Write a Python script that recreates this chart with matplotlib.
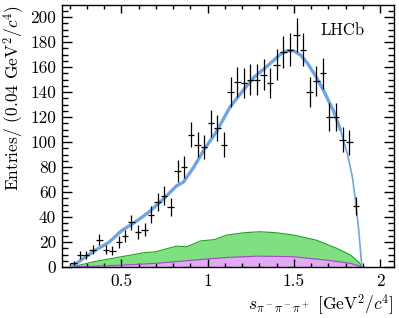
"""
    LHCb style mass spectrum: data points, fit curve, two background components
"""
import matplotlib
matplotlib.use("Agg")
import matplotlib.pyplot as plt
from matplotlib.ticker import MultipleLocator, FuncFormatter

plt.rcParams['font.family'] = 'cmr10'
plt.rcParams['mathtext.fontset'] = 'cm'
plt.rcParams['axes.formatter.use_mathtext'] = True
plt.rcParams['axes.unicode_minus'] = False

# data points (bin centres, entries, stat. errors)
x_data = [0.223, 0.261, 0.296, 0.334, 0.372, 0.41, 0.448, 0.486, 0.52, 0.558,
          0.596, 0.635, 0.673, 0.71, 0.748, 0.786, 0.826, 0.864, 0.903, 0.942,
          0.98, 1.019, 1.057, 1.095, 1.134, 1.172, 1.21, 1.248, 1.287, 1.325,
          1.363, 1.401, 1.44, 1.478, 1.516, 1.554, 1.592, 1.631, 1.669, 1.707,
          1.745, 1.784, 1.822, 1.86]
y_data = [3, 10, 10, 14, 22, 14, 13, 20, 25, 36,
          28, 30, 42, 52, 57, 48, 77, 80, 106, 98,
          96, 115, 111, 98, 140, 148, 147, 150, 150, 154,
          147, 162, 172, 174, 186, 174, 140, 149, 155, 120,
          120, 102, 100, 49]
y_err = [1.7, 3.2, 3.2, 3.7, 4.7, 3.7, 3.6, 4.5, 5.0, 6.0,
         5.3, 5.5, 6.5, 7.2, 7.5, 6.9, 8.8, 8.9, 10.3, 9.9,
         9.8, 10.7, 10.5, 9.9, 11.8, 12.2, 12.1, 12.2, 12.2, 12.4,
         12.1, 12.7, 13.1, 13.2, 13.6, 13.2, 11.8, 12.2, 12.4, 11.0,
         11.0, 10.1, 10.0, 7.0]
x_halfbin = 0.019

# total fit
fit_x = [0.21, 0.27, 0.35, 0.43, 0.50, 0.58, 0.66, 0.74, 0.82, 0.86, 0.92,
         0.98, 1.05, 1.13, 1.21, 1.27, 1.34, 1.42, 1.46, 1.50, 1.54, 1.58,
         1.63, 1.67, 1.73, 1.77]
fit_y = [0, 6, 13.5, 20, 29, 36, 44, 54, 65, 68, 80,
         94, 108, 128, 142, 152, 160, 170, 173, 173, 169.5, 163,
         152, 142, 125, 110]
tail_x = [1.77, 1.81, 1.84, 1.855, 1.875, 1.895]
tail_y = [110, 91, 72, 56, 32, 0]

# background components
green_x = [0.21, 0.34, 0.50, 0.63, 0.70, 0.82, 0.88, 0.96, 1.04, 1.11, 1.21,
           1.30, 1.40, 1.50, 1.63, 1.75, 1.83, 1.88, 1.897]
green_y = [0, 4.3, 8.3, 11.5, 12.3, 16.8, 16.3, 21, 22, 25.6, 27.5,
           28.3, 27.5, 25.6, 21.6, 15, 9.6, 3.5, 0]
violet_x = [0.21, 0.50, 0.70, 0.92, 0.96, 1.11, 1.29, 1.50, 1.69, 1.83, 1.897]
violet_y = [0, 1.6, 3, 5.6, 6.1, 7.7, 8.8, 8.3, 5.6, 3, 0]

fig = plt.figure(figsize=(3.99, 3.18), dpi=100)
ax = fig.add_axes([0.155, 0.160, 0.832, 0.824])

# draw
ax.fill_between(green_x, 0, green_y, color='#7ee07e', lw=0)
ax.plot(green_x, green_y, color='#1f9e1f', lw=0.8)
ax.fill_between(violet_x, 0, violet_y, color='#e2aaf5', lw=0)
ax.plot(violet_x, violet_y, color='#a348c8', lw=0.8)

ax.plot(fit_x, fit_y, color='#6fa6df', lw=2.4, solid_capstyle='round')
ax.plot(tail_x, tail_y, color='#6fa6df', lw=1.2)

ax.errorbar(x_data, y_data, xerr=x_halfbin, yerr=y_err, fmt='none',
            ecolor='black', elinewidth=0.9, capsize=0)

ax.text(1.78, 189, 'LHCb', ha='center', va='center', fontsize=12)

# set attribute
ax.set_xlim(0.155, 2.08)
ax.set_ylim(0, 209.6)
ax.xaxis.set_major_locator(MultipleLocator(0.5))
ax.xaxis.set_minor_locator(MultipleLocator(0.1))
ax.yaxis.set_major_locator(MultipleLocator(20))
ax.yaxis.set_minor_locator(MultipleLocator(5))
ax.xaxis.set_major_formatter(FuncFormatter(lambda v, p: '%g' % v))
ax.yaxis.set_major_formatter(FuncFormatter(lambda v, p: '%g' % v))
ax.tick_params(which='both', direction='in', top=True, right=True,
               labelsize=12.5, width=1.0)
ax.tick_params(axis='x', which='major', length=6, pad=5)
ax.tick_params(axis='x', which='minor', length=3)
ax.tick_params(axis='y', which='major', length=7.5, pad=4)
ax.tick_params(axis='y', which='minor', length=4)
for s in ax.spines.values():
    s.set_linewidth(1.0)

ax.set_ylabel(r'Entries/ (0.04 GeV$^2$/$c^4$)', fontsize=12.5, loc='top',
              labelpad=3)
ax.set_xlabel(r'$s_{\pi^-\pi^-\pi^+}$ [GeV$^2$/$c^4$]', fontsize=12.5,
              loc='right', labelpad=2)

plt.savefig("out.png", dpi=100)
